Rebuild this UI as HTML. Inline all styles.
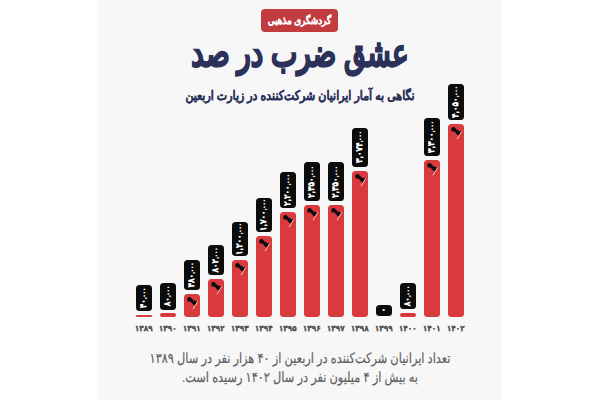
<!DOCTYPE html>
<html lang="fa"><head><meta charset="utf-8">
<style>
*{margin:0;padding:0;box-sizing:border-box}
html,body{width:600px;height:400px;overflow:hidden;background:#ffffff}
body{font-family:"Liberation Sans",sans-serif;position:relative;text-rendering:geometricPrecision}
#card{position:absolute;left:97.5px;top:0;width:403px;height:400px;background-color:#f7f7f7;box-shadow:0 0 2px #f7f7f7;
background-image:linear-gradient(rgba(0,0,0,0.013) 1px,transparent 1px),linear-gradient(90deg,rgba(0,0,0,0.013) 1px,transparent 1px);
background-size:36.5px 22.5px;background-position:38px 16.25px}
.badge{position:absolute;left:261px;top:9px;width:77px;height:23px;background:#c23b3e;border-radius:4px;color:#fff;font-weight:bold;font-size:8.8px;line-height:23px;-webkit-text-stroke:0.15px #fff;text-align:center;direction:rtl;white-space:nowrap}
.title{position:absolute;left:150px;width:300px;top:29px;text-align:center;direction:rtl;color:#2b3159;font-weight:bold;font-size:34px;line-height:50px;white-space:nowrap;-webkit-text-stroke:1.4px #2b3159;transform:scale(0.82,1.12)}
.sub{position:absolute;left:150px;width:300px;top:85.5px;text-align:center;direction:rtl;color:#2b3159;font-weight:bold;font-size:11px;line-height:20px;white-space:nowrap;transform:scaleY(1.2);-webkit-text-stroke:0.1px #2b3159}
.badge span{display:inline-block;transform:translateY(0.2px) scaleY(1.2)}
.bar{position:absolute;width:16.5px;background:#d83a3d}
.box{position:absolute;width:16.5px;background:#0c0c0c;border-radius:3.5px}
.lab{position:absolute;left:50%;top:50%;transform:translate(-50%,-50%) translateX(-0.5px) rotate(-90deg);color:#fff;font-weight:bold;font-size:8.5px;line-height:10px;text-align:center;white-space:nowrap;direction:ltr;-webkit-text-stroke:0.25px #fff;unicode-bidi:isolate;display:block}
.lab small{font-size:6px}
.fl{position:absolute;width:16.5px;height:17px}
.flag{display:block}
.yr{position:absolute;top:322px;width:28.5px;height:14px;font-size:8.2px;font-weight:bold;line-height:14px;transform:scaleY(0.95);-webkit-text-stroke:0.25px #525252;text-align:center;color:#525252;direction:rtl;white-space:nowrap}
.note{position:absolute;left:120px;width:360px;height:20px;text-align:center;direction:rtl;color:#5e5e5e;font-size:11.35px;line-height:20px;white-space:nowrap;transform:scaleY(1.25);-webkit-text-stroke:0.15px #5e5e5e}
</style></head><body>
<div id="card"></div>
<div class="badge"><span>گردشگری مذهبی</span></div>
<div class="title">عشق ضرب در صد</div>
<div class="sub">نگاهی به آمار ایرانیان شرکت‌کننده در زیارت اربعین</div>
<div class="bar" style="left:135.50px;top:315.00px;height:2.00px;border-radius:1.0px"></div><div class="box" style="left:135.50px;top:285.20px;height:26.20px"><span class="lab" style="width:26.20px">۴۰<small>,۰۰۰</small></span></div><div class="yr" style="left:129.50px">۱۳۸۹</div><div class="bar" style="left:159.50px;top:313.00px;height:4.00px;border-radius:2.0px"></div><div class="box" style="left:159.50px;top:283.00px;height:26.60px"><span class="lab" style="width:26.60px">۸۰<small>,۰۰۰</small></span></div><div class="yr" style="left:153.50px">۱۳۹۰</div><div class="bar" style="left:183.50px;top:294.40px;height:22.60px;border-radius:3.5px"></div><div class="fl" style="left:183.50px;top:294.40px"><svg class="flag" viewBox="0 0 16.5 17" width="16.5" height="17"><path d="M3.3,5.0 C3.3,3.6 4.2,2.9 5.5,2.9 C6.8,2.9 7.6,4.0 8.3,5.1 C9.2,6.4 10.6,7.3 13.4,7.4 L11.0,11.6 C9.6,11.2 8.6,10.2 7.6,8.8 C6.8,7.8 5.6,7.4 3.7,7.6 Z" fill="#0e0e0e"/><path d="M13.8,7.4 L9.0,15.2" stroke="#f3d5d5" stroke-width="0.9" fill="none"/></svg></div><div class="box" style="left:183.50px;top:259.80px;height:30.60px"><span class="lab" style="width:30.60px">۴۸۰<small>,۰۰۰</small></span></div><div class="yr" style="left:177.50px">۱۳۹۱</div><div class="bar" style="left:207.50px;top:279.00px;height:38.00px;border-radius:3.5px"></div><div class="fl" style="left:207.50px;top:279.00px"><svg class="flag" viewBox="0 0 16.5 17" width="16.5" height="17"><path d="M3.3,5.0 C3.3,3.6 4.2,2.9 5.5,2.9 C6.8,2.9 7.6,4.0 8.3,5.1 C9.2,6.4 10.6,7.3 13.4,7.4 L11.0,11.6 C9.6,11.2 8.6,10.2 7.6,8.8 C6.8,7.8 5.6,7.4 3.7,7.6 Z" fill="#0e0e0e"/><path d="M13.8,7.4 L9.0,15.2" stroke="#f3d5d5" stroke-width="0.9" fill="none"/></svg></div><div class="box" style="left:207.50px;top:244.50px;height:30.40px"><span class="lab" style="width:30.40px">۸۰۲<small>,۰۰۰</small></span></div><div class="yr" style="left:201.50px">۱۳۹۲</div><div class="bar" style="left:231.50px;top:260.10px;height:56.90px;border-radius:3.5px"></div><div class="fl" style="left:231.50px;top:260.10px"><svg class="flag" viewBox="0 0 16.5 17" width="16.5" height="17"><path d="M3.3,5.0 C3.3,3.6 4.2,2.9 5.5,2.9 C6.8,2.9 7.6,4.0 8.3,5.1 C9.2,6.4 10.6,7.3 13.4,7.4 L11.0,11.6 C9.6,11.2 8.6,10.2 7.6,8.8 C6.8,7.8 5.6,7.4 3.7,7.6 Z" fill="#0e0e0e"/><path d="M13.8,7.4 L9.0,15.2" stroke="#f3d5d5" stroke-width="0.9" fill="none"/></svg></div><div class="box" style="left:231.50px;top:222.20px;height:34.00px"><span class="lab" style="width:34.00px">۱,۲۰۰<small>,۰۰۰</small></span></div><div class="yr" style="left:225.50px">۱۳۹۳</div><div class="bar" style="left:255.50px;top:236.20px;height:80.80px;border-radius:3.5px"></div><div class="fl" style="left:255.50px;top:236.20px"><svg class="flag" viewBox="0 0 16.5 17" width="16.5" height="17"><path d="M3.3,5.0 C3.3,3.6 4.2,2.9 5.5,2.9 C6.8,2.9 7.6,4.0 8.3,5.1 C9.2,6.4 10.6,7.3 13.4,7.4 L11.0,11.6 C9.6,11.2 8.6,10.2 7.6,8.8 C6.8,7.8 5.6,7.4 3.7,7.6 Z" fill="#0e0e0e"/><path d="M13.8,7.4 L9.0,15.2" stroke="#f3d5d5" stroke-width="0.9" fill="none"/></svg></div><div class="box" style="left:255.50px;top:197.50px;height:34.70px"><span class="lab" style="width:34.70px">۱,۷۰۰<small>,۰۰۰</small></span></div><div class="yr" style="left:249.50px">۱۳۹۴</div><div class="bar" style="left:279.50px;top:212.00px;height:105.00px;border-radius:3.5px"></div><div class="fl" style="left:279.50px;top:212.00px"><svg class="flag" viewBox="0 0 16.5 17" width="16.5" height="17"><path d="M3.3,5.0 C3.3,3.6 4.2,2.9 5.5,2.9 C6.8,2.9 7.6,4.0 8.3,5.1 C9.2,6.4 10.6,7.3 13.4,7.4 L11.0,11.6 C9.6,11.2 8.6,10.2 7.6,8.8 C6.8,7.8 5.6,7.4 3.7,7.6 Z" fill="#0e0e0e"/><path d="M13.8,7.4 L9.0,15.2" stroke="#f3d5d5" stroke-width="0.9" fill="none"/></svg></div><div class="box" style="left:279.50px;top:172.00px;height:35.80px"><span class="lab" style="width:35.80px">۲,۲۰۰<small>,۰۰۰</small></span></div><div class="yr" style="left:273.50px">۱۳۹۵</div><div class="bar" style="left:303.50px;top:205.00px;height:112.00px;border-radius:3.5px"></div><div class="fl" style="left:303.50px;top:205.00px"><svg class="flag" viewBox="0 0 16.5 17" width="16.5" height="17"><path d="M3.3,5.0 C3.3,3.6 4.2,2.9 5.5,2.9 C6.8,2.9 7.6,4.0 8.3,5.1 C9.2,6.4 10.6,7.3 13.4,7.4 L11.0,11.6 C9.6,11.2 8.6,10.2 7.6,8.8 C6.8,7.8 5.6,7.4 3.7,7.6 Z" fill="#0e0e0e"/><path d="M13.8,7.4 L9.0,15.2" stroke="#f3d5d5" stroke-width="0.9" fill="none"/></svg></div><div class="box" style="left:303.50px;top:162.00px;height:39.20px"><span class="lab" style="width:39.20px">۲,۳۵۰<small>,۰۰۰</small></span></div><div class="yr" style="left:297.50px">۱۳۹۶</div><div class="bar" style="left:327.50px;top:205.00px;height:112.00px;border-radius:3.5px"></div><div class="fl" style="left:327.50px;top:205.00px"><svg class="flag" viewBox="0 0 16.5 17" width="16.5" height="17"><path d="M3.3,5.0 C3.3,3.6 4.2,2.9 5.5,2.9 C6.8,2.9 7.6,4.0 8.3,5.1 C9.2,6.4 10.6,7.3 13.4,7.4 L11.0,11.6 C9.6,11.2 8.6,10.2 7.6,8.8 C6.8,7.8 5.6,7.4 3.7,7.6 Z" fill="#0e0e0e"/><path d="M13.8,7.4 L9.0,15.2" stroke="#f3d5d5" stroke-width="0.9" fill="none"/></svg></div><div class="box" style="left:327.50px;top:162.00px;height:39.20px"><span class="lab" style="width:39.20px">۲,۳۵۰<small>,۰۰۰</small></span></div><div class="yr" style="left:321.50px">۱۳۹۷</div><div class="bar" style="left:351.50px;top:170.80px;height:146.20px;border-radius:3.5px"></div><div class="fl" style="left:351.50px;top:170.80px"><svg class="flag" viewBox="0 0 16.5 17" width="16.5" height="17"><path d="M3.3,5.0 C3.3,3.6 4.2,2.9 5.5,2.9 C6.8,2.9 7.6,4.0 8.3,5.1 C9.2,6.4 10.6,7.3 13.4,7.4 L11.0,11.6 C9.6,11.2 8.6,10.2 7.6,8.8 C6.8,7.8 5.6,7.4 3.7,7.6 Z" fill="#0e0e0e"/><path d="M13.8,7.4 L9.0,15.2" stroke="#f3d5d5" stroke-width="0.9" fill="none"/></svg></div><div class="box" style="left:351.50px;top:127.50px;height:39.30px"><span class="lab" style="width:39.30px">۳,۰۷۴<small>,۰۰۰</small></span></div><div class="yr" style="left:345.50px">۱۳۹۸</div><div class="box" style="left:375.50px;top:304.90px;height:11.00px"><span class="lab" style="width:11.00px;transform:translate(-50%,-50%) rotate(-90deg)">۰<small></small></span></div><div class="yr" style="left:369.50px">۱۳۹۹</div><div class="bar" style="left:399.50px;top:313.00px;height:4.00px;border-radius:2.0px"></div><div class="box" style="left:399.50px;top:282.80px;height:26.60px"><span class="lab" style="width:26.60px">۸۰<small>,۰۰۰</small></span></div><div class="yr" style="left:393.50px">۱۴۰۰</div><div class="bar" style="left:423.50px;top:159.50px;height:157.50px;border-radius:3.5px"></div><div class="fl" style="left:423.50px;top:159.50px"><svg class="flag" viewBox="0 0 16.5 17" width="16.5" height="17"><path d="M3.3,5.0 C3.3,3.6 4.2,2.9 5.5,2.9 C6.8,2.9 7.6,4.0 8.3,5.1 C9.2,6.4 10.6,7.3 13.4,7.4 L11.0,11.6 C9.6,11.2 8.6,10.2 7.6,8.8 C6.8,7.8 5.6,7.4 3.7,7.6 Z" fill="#0e0e0e"/><path d="M13.8,7.4 L9.0,15.2" stroke="#f3d5d5" stroke-width="0.9" fill="none"/></svg></div><div class="box" style="left:423.50px;top:117.50px;height:38.30px"><span class="lab" style="width:38.30px">۳,۳۰۰<small>,۰۰۰</small></span></div><div class="yr" style="left:417.50px">۱۴۰۱</div><div class="bar" style="left:447.50px;top:124.00px;height:193.00px;border-radius:3.5px"></div><div class="fl" style="left:447.50px;top:124.00px"><svg class="flag" viewBox="0 0 16.5 17" width="16.5" height="17"><path d="M3.3,5.0 C3.3,3.6 4.2,2.9 5.5,2.9 C6.8,2.9 7.6,4.0 8.3,5.1 C9.2,6.4 10.6,7.3 13.4,7.4 L11.0,11.6 C9.6,11.2 8.6,10.2 7.6,8.8 C6.8,7.8 5.6,7.4 3.7,7.6 Z" fill="#0e0e0e"/><path d="M13.8,7.4 L9.0,15.2" stroke="#f3d5d5" stroke-width="0.9" fill="none"/></svg></div><div class="box" style="left:447.50px;top:83.80px;height:36.00px"><span class="lab" style="width:36.00px">۴,۰۵۰<small>,۰۰۰</small></span></div><div class="yr" style="left:441.50px">۱۴۰۲</div>
<div class="note" style="top:349px">تعداد ایرانیان شرکت‌کننده در اربعین از ۴۰ هزار نفر در سال ۱۳۸۹</div>
<div class="note" style="top:367.5px">به بیش از ۴ میلیون نفر در سال ۱۴۰۲ رسیده است.</div>
</body></html>
